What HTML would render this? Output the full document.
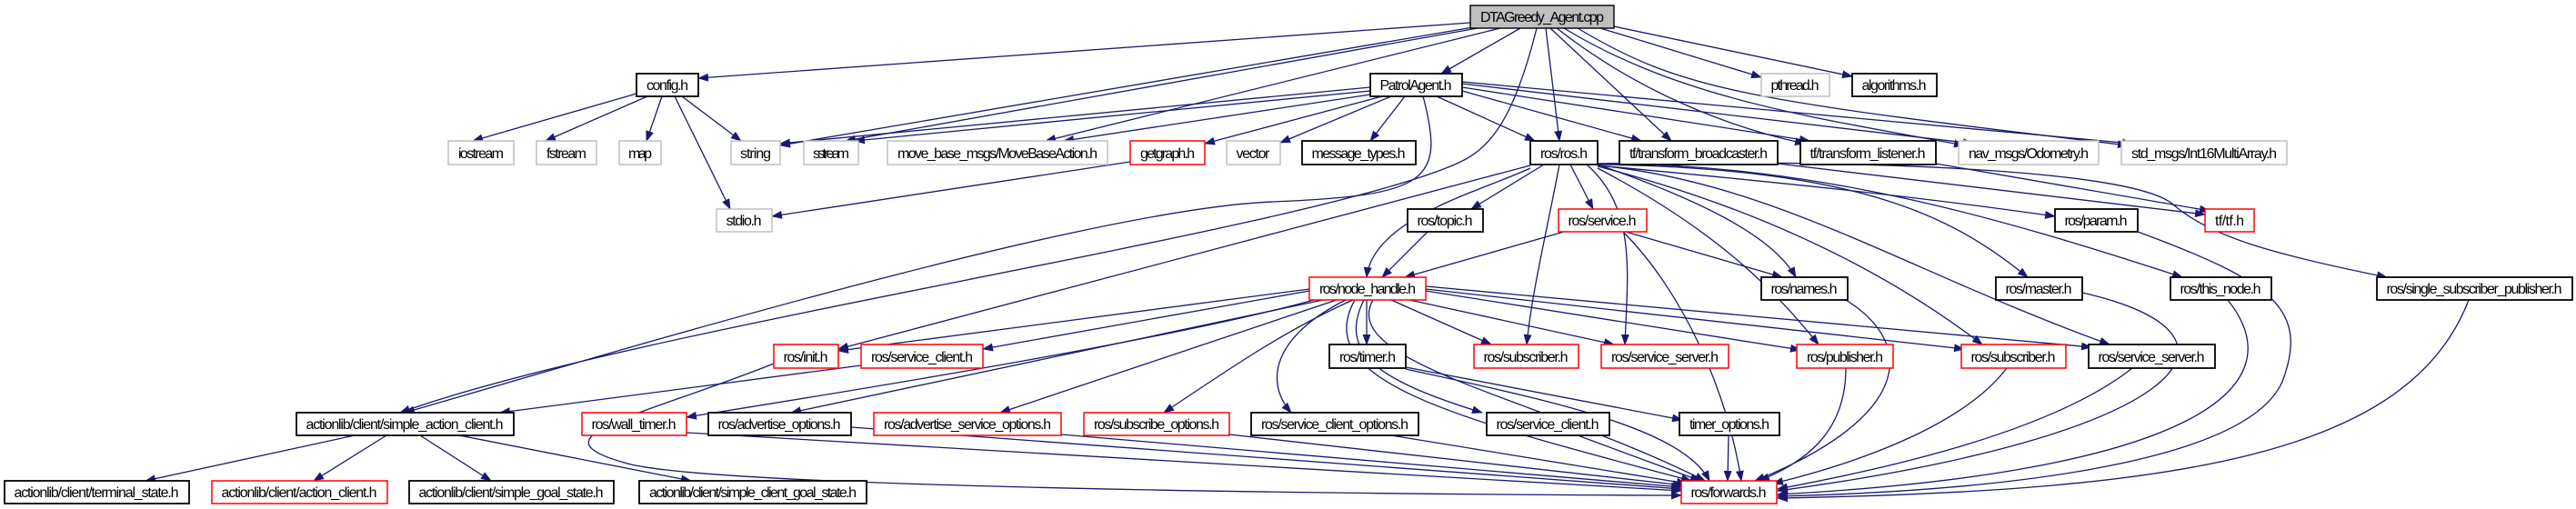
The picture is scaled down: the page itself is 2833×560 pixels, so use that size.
<!DOCTYPE html>
<html><head><meta charset="utf-8"><style>
html,body{margin:0;padding:0;background:#fff;}
svg{display:block;}
text{font-family:"Liberation Sans",sans-serif;font-size:16px;fill:#000;text-anchor:middle;}
.b{fill:#fff;stroke:#000;stroke-width:1.8;}
.r{fill:#fff;stroke:#f00;stroke-width:1.5;}
.g{fill:#fff;stroke:#bfbfbf;stroke-width:1.5;}
.e{fill:none;stroke:#191970;stroke-width:1.3;marker-end:url(#a);}
</style></head><body>
<svg width="2833" height="560" viewBox="0 0 2833 560" xmlns="http://www.w3.org/2000/svg">
<defs><marker id="a" markerUnits="userSpaceOnUse" markerWidth="12" markerHeight="9" refX="11" refY="4.5" orient="auto" viewBox="0 0 12 9"><path d="M0,0 L12,4.5 L0,9 z" fill="#191970"/></marker></defs>
<g>
<path class="e" d="M1617,25 L768,86"/>
<path class="e" d="M1620,30 L858,160"/>
<path class="e" d="M1625,31 L930,155"/>
<path class="e" d="M1650,31 L1150,155"/>
<path class="e" d="M1672,31 L1585,81"/>
<path class="e" d="M1690,31 C1660,150 1630,170 1590,185 C1400,260 700,360 440,454"/>
<path class="e" d="M1700,31 L1715,155"/>
<path class="e" d="M1705,31 L1838,155"/>
<path class="e" d="M1712,31 C1800,100 1900,140 1985,158"/>
<path class="e" d="M1720,31 C1850,110 2000,130 2160,160"/>
<path class="e" d="M1735,31 C1850,100 1920,110 2340,160"/>
<path class="e" d="M1760,31 L1937,85"/>
<path class="e" d="M1770,28 L2037,84"/>
<path class="e" d="M700,103 L520,155"/>
<path class="e" d="M712,106 L600,155"/>
<path class="e" d="M728,106 L711,155"/>
<path class="e" d="M750,106 L815,155"/>
<path class="e" d="M742,106 L803,230"/>
<path class="e" d="M1507,96 L858,158"/>
<path class="e" d="M1507,100 L940,155"/>
<path class="e" d="M1507,104 L1170,155"/>
<path class="e" d="M1520,106 L1325,158"/>
<path class="e" d="M1530,106 L1408,157"/>
<path class="e" d="M1545,106 L1507,155"/>
<path class="e" d="M1580,106 L1688,155"/>
<path class="e" d="M1608,100 L1805,155"/>
<path class="e" d="M1608,96 L1990,155"/>
<path class="e" d="M1608,92 L2170,158"/>
<path class="e" d="M1608,90 L2345,158"/>
<path class="e" d="M1565,106 C1590,200 1570,215 1400,222 C1200,230 700,380 445,454"/>
<path class="e" d="M1243,178 L849,238"/>
<path class="e" d="M1698,181 L1618,230"/>
<path class="e" d="M1727,181 L1752,230"/>
<path class="e" d="M1683,185 C1630,210 1510,240 1503,305"/>
<path class="e" d="M1683,182 L922,384"/>
<path class="e" d="M1715,181 C1700,260 1685,320 1679,379"/>
<path class="e" d="M1745,181 C1800,230 1790,300 1787,379"/>
<path class="e" d="M1757,185 C1900,260 1960,330 2000,379"/>
<path class="e" d="M1757,183 C1900,220 2050,280 2180,379"/>
<path class="e" d="M1757,182 C1950,200 2100,300 2320,379"/>
<path class="e" d="M1757,181 C1870,220 1950,260 1975,305"/>
<path class="e" d="M1757,182 C1950,200 2100,215 2260,238"/>
<path class="e" d="M1757,181 C2050,185 2150,240 2230,305"/>
<path class="e" d="M1757,180 C2000,180 2200,240 2400,305"/>
<path class="e" d="M1757,180 C2100,175 2350,190 2390,225 C2430,260 2500,280 2625,305"/>
<path class="e" d="M1955,180 L2425,236"/>
<path class="e" d="M2129,180 L2430,232"/>
<path class="e" d="M1570,255 L1520,305"/>
<path class="e" d="M1720,255 L1545,305"/>
<path class="e" d="M1788,255 L1960,305"/>
<path class="e" d="M1785,255 C1850,320 1900,430 1915,529"/>
<path class="e" d="M1440,318 L922,386"/>
<path class="e" d="M1440,320 L1081,384"/>
<path class="e" d="M1445,330 C1300,370 1000,420 755,459"/>
<path class="e" d="M1455,330 L870,454"/>
<path class="e" d="M1470,330 L1100,454"/>
<path class="e" d="M1488,330 C1420,360 1360,400 1280,454"/>
<path class="e" d="M1480,330 C1400,370 1390,420 1420,454"/>
<path class="e" d="M1500,330 C1470,390 1520,420 1630,454"/>
<path class="e" d="M1503,330 L1503,379"/>
<path class="e" d="M1490,330 C1440,420 1600,460 1860,529"/>
<path class="e" d="M1510,330 C1470,400 1700,440 1875,529"/>
<path class="e" d="M1530,330 L1640,379"/>
<path class="e" d="M1550,330 L1775,379"/>
<path class="e" d="M1568,320 L1980,385"/>
<path class="e" d="M1568,318 L2160,384"/>
<path class="e" d="M1568,315 L2300,382"/>
<path class="e" d="M851,400 C700,460 580,480 690,510 C800,540 1700,545 1849,545"/>
<path class="e" d="M947,402 L550,454"/>
<path class="e" d="M755,476 L1849,540"/>
<path class="e" d="M936,470 L1849,538"/>
<path class="e" d="M1167,478 L1849,536"/>
<path class="e" d="M1352,478 L1851,534"/>
<path class="e" d="M1530,479 L1855,532"/>
<path class="e" d="M1735,479 L1870,529"/>
<path class="e" d="M1546,404 L1850,462"/>
<path class="e" d="M1546,406 C1700,440 1850,470 1880,529"/>
<path class="e" d="M1901,479 L1900,529"/>
<path class="e" d="M2030,330 C2110,380 2100,460 1930,529"/>
<path class="e" d="M2290,322 C2500,370 2400,480 1955,540"/>
<path class="e" d="M2450,330 C2530,430 2400,520 1955,544"/>
<path class="e" d="M2351,255 C2500,310 2540,340 2510,420 C2470,510 2200,540 1955,546"/>
<path class="e" d="M2715,330 C2650,500 2400,540 1955,548"/>
<path class="e" d="M2030,405 C2030,480 1980,510 1935,529"/>
<path class="e" d="M2207,405 C2150,480 2000,520 1950,532"/>
<path class="e" d="M2345,405 C2250,480 2050,520 1955,538"/>
<path class="e" d="M390,479 L160,529"/>
<path class="e" d="M425,479 L345,529"/>
<path class="e" d="M462,479 L540,529"/>
<path class="e" d="M505,479 L760,529"/>
</g>
<g>
<rect x="1617" y="6" width="158" height="25" fill="#bfbfbf" stroke="#000" stroke-width="1.4"/><text x="1696" y="24" textLength="136">DTAGreedy_Agent.cpp</text>
<rect class="b" x="700" y="81" width="68" height="25"/><text x="734" y="99" textLength="46">config.h</text>
<rect class="b" x="1507" y="81" width="101" height="25"/><text x="1557" y="99" textLength="79">PatrolAgent.h</text>
<rect class="g" x="1937" y="81" width="75" height="25"/><text x="1974" y="99" textLength="53">pthread.h</text>
<rect class="b" x="2037" y="81" width="93" height="25"/><text x="2083" y="99" textLength="71">algorithms.h</text>

<rect class="g" x="493" y="155" width="72" height="26"/><text x="529" y="174" textLength="50">iostream</text>
<rect class="g" x="590" y="155" width="66" height="26"/><text x="623" y="174" textLength="44">fstream</text>
<rect class="g" x="681" y="155" width="46" height="26"/><text x="704" y="174" textLength="26">map</text>
<rect class="g" x="804" y="155" width="54" height="26"/><text x="831" y="174" textLength="34">string</text>
<rect class="g" x="884" y="155" width="60" height="26"/><text x="914" y="174" textLength="40">sstream</text>
<rect class="g" x="976" y="155" width="242" height="26"/><text x="1097" y="174" textLength="220">move_base_msgs/MoveBaseAction.h</text>
<rect class="r" x="1243" y="155" width="82" height="26"/><text x="1284" y="174" textLength="60">getgraph.h</text>
<rect class="g" x="1349" y="155" width="59" height="26"/><text x="1378" y="174" textLength="37">vector</text>
<rect class="b" x="1432" y="155" width="125" height="26"/><text x="1494" y="174" textLength="103">message_types.h</text>
<rect class="b" x="1683" y="155" width="74" height="26"/><text x="1720" y="174" textLength="52">ros/ros.h</text>
<rect class="b" x="1781" y="155" width="174" height="26"/><text x="1868" y="174" textLength="152">tf/transform_broadcaster.h</text>
<rect class="b" x="1980" y="155" width="149" height="26"/><text x="2054" y="174" textLength="127">tf/transform_listener.h</text>
<rect class="g" x="2154" y="155" width="154" height="26"/><text x="2231" y="174" textLength="132">nav_msgs/Odometry.h</text>
<rect class="g" x="2333" y="155" width="182" height="26"/><text x="2424" y="174" textLength="160">std_msgs/Int16MultiArray.h</text>

<rect class="g" x="788" y="230" width="61" height="25"/><text x="818" y="248" textLength="39">stdio.h</text>
<rect class="b" x="1548" y="230" width="83" height="25"/><text x="1589" y="248" textLength="61">ros/topic.h</text>
<rect class="r" x="1714" y="230" width="97" height="25"/><text x="1762" y="248" textLength="75">ros/service.h</text>
<rect class="b" x="2260" y="230" width="91" height="25"/><text x="2305" y="248" textLength="69">ros/param.h</text>
<rect class="r" x="2425" y="230" width="54" height="25"/><text x="2452" y="248" textLength="32">tf/tf.h</text>

<rect class="r" x="1440" y="305" width="128" height="25"/><text x="1504" y="323" textLength="106">ros/node_handle.h</text>
<rect class="b" x="1937" y="305" width="95" height="25"/><text x="1984" y="323" textLength="73">ros/names.h</text>
<rect class="b" x="2195" y="305" width="95" height="25"/><text x="2242" y="323" textLength="73">ros/master.h</text>
<rect class="b" x="2387" y="305" width="111" height="25"/><text x="2442" y="323" textLength="89">ros/this_node.h</text>
<rect class="b" x="2614" y="305" width="215" height="25"/><text x="2721" y="323" textLength="193">ros/single_subscriber_publisher.h</text>

<rect class="r" x="851" y="379" width="71" height="26"/><text x="886" y="398" textLength="49">ros/init.h</text>
<rect class="r" x="947" y="379" width="134" height="26"/><text x="1014" y="398" textLength="112">ros/service_client.h</text>
<rect class="b" x="1462" y="379" width="84" height="26"/><text x="1504" y="398" textLength="62">ros/timer.h</text>
<rect class="r" x="1621" y="379" width="115" height="26"/><text x="1678" y="398" textLength="93">ros/subscriber.h</text>
<rect class="r" x="1761" y="379" width="140" height="26"/><text x="1831" y="398" textLength="118">ros/service_server.h</text>
<rect class="r" x="1976" y="379" width="106" height="26"/><text x="2029" y="398" textLength="84">ros/publisher.h</text>
<rect class="r" x="2157" y="379" width="115" height="26"/><text x="2214" y="398" textLength="93">ros/subscriber.h</text>
<rect class="b" x="2297" y="379" width="139" height="26"/><text x="2366" y="398" textLength="117">ros/service_server.h</text>

<rect class="b" x="326" y="454" width="239" height="25"/><text x="445" y="472" textLength="217">actionlib/client/simple_action_client.h</text>
<rect class="r" x="640" y="454" width="115" height="25"/><text x="697" y="472" textLength="93">ros/wall_timer.h</text>
<rect class="b" x="779" y="454" width="157" height="25"/><text x="857" y="472" textLength="135">ros/advertise_options.h</text>
<rect class="r" x="961" y="454" width="206" height="25"/><text x="1064" y="472" textLength="184">ros/advertise_service_options.h</text>
<rect class="r" x="1192" y="454" width="160" height="25"/><text x="1272" y="472" textLength="138">ros/subscribe_options.h</text>
<rect class="b" x="1376" y="454" width="184" height="25"/><text x="1468" y="472" textLength="162">ros/service_client_options.h</text>
<rect class="b" x="1635" y="454" width="135" height="25"/><text x="1702" y="472" textLength="113">ros/service_client.h</text>
<rect class="b" x="1847" y="454" width="110" height="25"/><text x="1902" y="472" textLength="88">timer_options.h</text>

<rect class="b" x="5" y="529" width="203" height="25"/><text x="106" y="547" textLength="181">actionlib/client/terminal_state.h</text>
<rect class="r" x="233" y="529" width="193" height="25"/><text x="329" y="547" textLength="171">actionlib/client/action_client.h</text>
<rect class="b" x="450" y="529" width="225" height="25"/><text x="562" y="547" textLength="203">actionlib/client/simple_goal_state.h</text>
<rect class="b" x="703" y="529" width="250" height="25"/><text x="828" y="547" textLength="228">actionlib/client/simple_client_goal_state.h</text>
<rect class="r" x="1849" y="529" width="105" height="25"/><text x="1901" y="547" textLength="83">ros/forwards.h</text>
</g>
</svg>
</body></html>
